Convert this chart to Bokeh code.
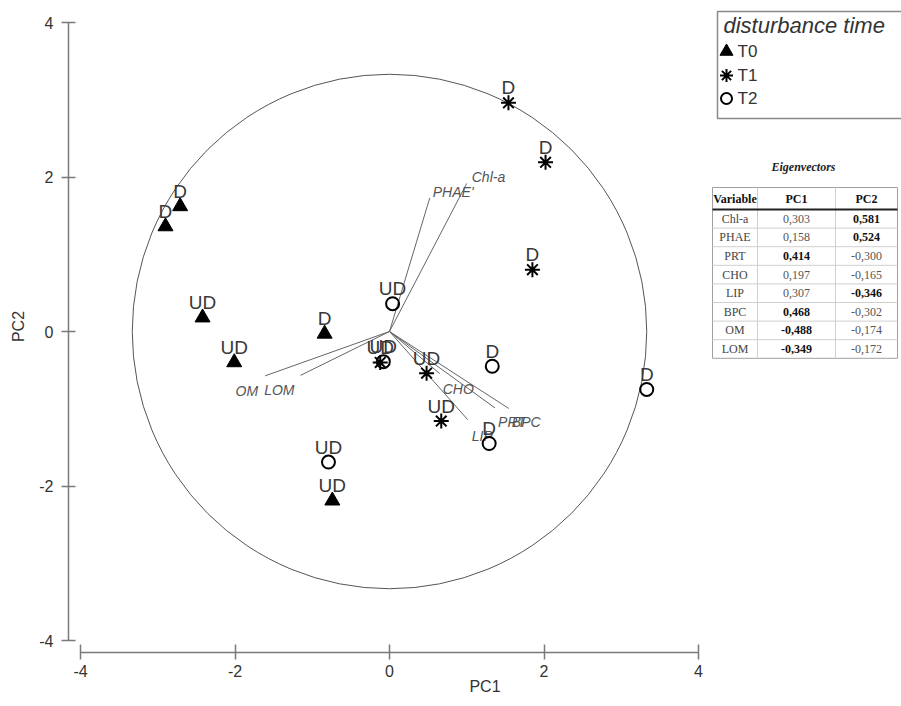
from bokeh.plotting import figure
from bokeh.models import Range1d, FixedTicker, ColumnDataSource
from bokeh.core.properties import value
from bokeh.embed import file_html
from bokeh.resources import INLINE

# ---------------- data ----------------
t0_pc1 = [-2.90, -2.71, -2.42, -2.01, -0.84, -0.74]
t0_pc2 = [1.36, 1.62, 0.18, -0.40, -0.03, -2.19]
t0_lab = ["D", "D", "UD", "UD", "D", "UD"]

t1_pc1 = [1.54, 2.02, 1.85, 0.48, 0.67, -0.12]
t1_pc2 = [2.96, 2.19, 0.80, -0.54, -1.16, -0.40]
t1_lab = ["D", "D", "D", "UD", "UD", "UD"]

t2_pc1 = [0.04, 1.33, 1.29, 3.33, -0.79, -0.08]
t2_pc2 = [0.36, -0.45, -1.45, -0.75, -1.69, -0.39]
t2_lab = ["UD", "D", "D", "D", "UD", "UD"]

series_names = ["T0", "T1", "T2"]
legend_title = "disturbance time"

variables = ["Chl-a", "PHAE", "PRT", "CHO", "LIP", "BPC", "OM", "LOM"]
vector_labels = ["Chl-a", "PHAE'", "PRT", "CHO", "LIP", "BPC", "OM", "LOM"]
ev_pc1 = [0.303, 0.158, 0.414, 0.197, 0.307, 0.468, -0.488, -0.349]
ev_pc2 = [0.581, 0.524, -0.300, -0.165, -0.346, -0.302, -0.174, -0.172]
pc1_bold = [False, False, True, False, False, True, True, True]
pc2_bold = [True, True, False, False, True, False, False, False]

axis_ticks = [-4, -2, 0, 2, 4]
circle_radius = 3.33

# ---------------- layout / style ----------------
W, H = 901, 706
PX = 77.25                      # pixels per data unit
FL, FB = 68, 652                # frame left / bottom (canvas px)
x_start = -4 - 12 / PX
x_end = x_start + (W - FL) / PX
y_end = 4 + 22 / PX
y_start = y_end - FB / PX


def dx(px):
    return x_start + (px - FL) / PX


def dy(py):
    return y_end - py / PX


SANS = value("Liberation Sans")
SERIF = value("Liberation Serif")

p = figure(width=W, height=H, x_range=Range1d(x_start, x_end),
           y_range=Range1d(y_start, y_end), output_backend="svg",
           toolbar_location=None, min_border_left=FL, min_border_right=0,
           min_border_top=0, min_border_bottom=H - FB, outline_line_color=None)
p.grid.visible = False

for ax in (p.xaxis[0], p.yaxis[0]):
    ax.bounds = (-4, 4)
    ax.ticker = FixedTicker(ticks=axis_ticks)
    ax.major_label_overrides = {t: str(t) for t in axis_ticks}
    ax.minor_tick_line_color = None
    ax.axis_line_color = "#7a7a7a"
    ax.axis_line_width = 1.5
    ax.major_tick_line_color = "#7a7a7a"
    ax.major_tick_line_width = 1.5
    ax.major_label_text_font = "Liberation Sans"
    ax.major_label_text_font_size = "16px"
    ax.major_label_text_color = "#333333"
    ax.axis_label_text_font = "Liberation Sans"
    ax.axis_label_text_font_size = "16px"
    ax.axis_label_text_font_style = "normal"
    ax.axis_label_text_color = "#333333"

p.xaxis.axis_label = "PC1"
p.xaxis.major_tick_in = 8
p.xaxis.major_tick_out = 7
p.xaxis.major_label_standoff = 5
p.xaxis.axis_label_standoff = -2

p.yaxis.axis_label = "PC2"
p.yaxis.major_tick_in = 7
p.yaxis.major_tick_out = 7
p.yaxis.major_label_standoff = 8
p.yaxis.axis_label_standoff = 9

# correlation circle
p.circle(x=[0], y=[0], radius=circle_radius, fill_color=None,
         line_color="#555555", line_width=1)

# eigenvector lines
vec_scale = 3.3
vsrc = ColumnDataSource(dict(
    x1=[v * vec_scale for v in ev_pc1],
    y1=[v * vec_scale for v in ev_pc2],
    lab=vector_labels,
    xo=[5, 3, 3, 3, 4, 3, -7, -6],
    yo=[-6, -6, 14, 15, 16, 14, 15, 15],
    al=["left", "left", "left", "left", "left", "left", "right", "right"],
))
p.segment(x0=0, y0=0, x1="x1", y1="y1", source=vsrc, line_color="#666666", line_width=1)
p.text(x="x1", y="y1", text="lab", source=vsrc, x_offset="xo", y_offset="yo",
       text_align="al", text_baseline="alphabetic", text_font=SANS,
       text_font_size="14px", text_font_style="italic", text_color="#555555")

# scores
marker_styles = [
    dict(marker="triangle", fill_color="black", line_color="black", line_width=1),
    dict(marker="asterisk", line_color="black", line_width=2),
    dict(marker="circle", fill_color=None, line_color="black", line_width=2),
]
marker_sizes = [15, 15, 13]
all_series = [(t0_pc1, t0_pc2, t0_lab), (t1_pc1, t1_pc2, t1_lab), (t2_pc1, t2_pc2, t2_lab)]

for (xs, ys, labs), st, sz in zip(all_series, marker_styles, marker_sizes):
    p.scatter(xs, ys, size=sz, **st)
    p.text(xs, ys, text=labs, text_align="center", text_baseline="alphabetic",
           y_offset=-15, text_font=SANS, text_font_size="19px", text_color="#383838")

# legend box (drawn with glyphs so the markers match the plot)
p.quad(left=[dx(717)], right=[dx(910)], top=[dy(11)], bottom=[dy(118)],
       fill_color="white", line_color="#8a8a8a", line_width=1.5)
p.text([dx(723)], [dy(25)], text=[legend_title], text_align="left",
       text_baseline="middle", text_font=SANS, text_font_size="22px",
       text_font_style="italic", text_color="#333333")
leg_rows = [51, 75, 98]
leg_sizes = [13, 13, 11]
for name, st, sz, ry in zip(series_names, marker_styles, leg_sizes, leg_rows):
    p.scatter([dx(726)], [dy(ry)], size=sz, **st)
    p.text([dx(737)], [dy(ry)], text=[name], text_align="left", text_baseline="middle",
           text_font=SANS, text_font_size="17px", text_color="#333333")

# eigenvector table
row_h = 18.6
tab_top, head_line = 187, 209
tab_bot = head_line + row_h * 8
col_l, col_d1, col_d2, col_r = 712, 757, 835, 897
col_c = [734.5, 796, 866]

p.text([dx(803)], [dy(166)], text=["Eigenvectors"], text_align="center",
       text_baseline="middle", text_font=SERIF, text_font_size="12px",
       text_font_style="bold italic", text_color="#222222")
p.quad(left=[dx(col_l)], right=[dx(col_r)], top=[dy(tab_top)], bottom=[dy(tab_bot)],
       fill_color="white", line_color="#a0a0a0", line_width=1)
p.segment(x0=[dx(col_l)] * 7, x1=[dx(col_r)] * 7,
          y0=[dy(head_line + row_h * i) for i in range(1, 8)],
          y1=[dy(head_line + row_h * i) for i in range(1, 8)],
          line_color="#cfcfcf", line_width=1)
p.segment(x0=[dx(col_d1), dx(col_d2)], x1=[dx(col_d1), dx(col_d2)],
          y0=[dy(tab_top)] * 2, y1=[dy(tab_bot)] * 2, line_color="#cfcfcf", line_width=1)
p.segment(x0=[dx(col_l)], x1=[dx(col_r)], y0=[dy(head_line)], y1=[dy(head_line)],
          line_color="#222222", line_width=2)
p.text([dx(c) for c in col_c], [dy(198)] * 3, text=["Variable", "PC1", "PC2"],
       text_align="center", text_baseline="middle", text_font=SERIF,
       text_font_size="12px", text_font_style="bold", text_color="#111111")

row_y = [dy(head_line + row_h * (i + 0.5)) for i in range(len(variables))]
fmt = lambda v: f"{v:.3f}".replace(".", ",")
tsrc = ColumnDataSource(dict(
    x=[dx(col_c[0])] * 8 + [dx(col_c[1])] * 8 + [dx(col_c[2])] * 8,
    y=row_y * 3,
    t=variables + [fmt(v) for v in ev_pc1] + [fmt(v) for v in ev_pc2],
    st=["normal"] * 8 + ["bold" if b else "normal" for b in pc1_bold]
       + ["bold" if b else "normal" for b in pc2_bold],
    c=["#444444"] * 8 + ["#111111" if b else "#555555" for b in pc1_bold]
      + ["#111111" if b else "#555555" for b in pc2_bold],
))
p.text(x="x", y="y", text="t", source=tsrc, text_align="center",
       text_baseline="middle", text_font=SERIF, text_font_size="12px",
       text_font_style="st", text_color="c")

open("out.html", "w").write(file_html(p, INLINE))
